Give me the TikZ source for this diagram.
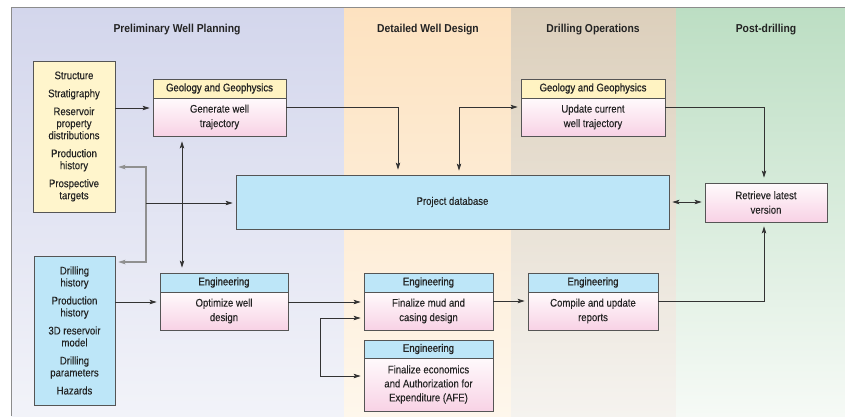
\documentclass[tikz,border=0pt]{standalone}
\usepackage{fontspec}
\setmainfont{Liberation Sans}[FakeStretch=0.87]
\newfontfamily\bodyfont{Liberation Sans}[FakeStretch=0.87, FakeBold=0.15]
\newfontfamily\hdrfont{Liberation Sans}[FakeStretch=0.87, FakeBold=0.8]
\newfontfamily\titlefont{Liberation Sans Bold}[FakeStretch=0.9]
\usetikzlibrary{arrows.meta,calc}

\definecolor{framecol}{HTML}{8C8C8C}
\definecolor{linecol}{HTML}{333333}
\definecolor{branchcol}{HTML}{909090}
\definecolor{boxline}{HTML}{555555}
\definecolor{textcol}{HTML}{232323}
\definecolor{planTop}{HTML}{D3D6EC}
\definecolor{planBot}{HTML}{F2F3F9}
\definecolor{designTop}{HTML}{FDE2C0}
\definecolor{designBot}{HTML}{FEF7EC}
\definecolor{drillTop}{HTML}{DCCFBB}
\definecolor{drillBot}{HTML}{F5F3EF}
\definecolor{postTop}{HTML}{BCDEC3}
\definecolor{postBot}{HTML}{F6FAF6}
\definecolor{ylw}{HTML}{FFF5CC}
\definecolor{hdry}{HTML}{FFF3C2}
\definecolor{lblue}{HTML}{BDE6F8}
\definecolor{pinkTop}{HTML}{FFFAFC}
\definecolor{pinkBot}{HTML}{F8D2E5}

\tikzset{
  coltitle/.style={font=\titlefont\fontsize{11.5}{13}\selectfont, text=textcol},
  box/.style={draw=boxline, line width=0.8pt, inner sep=0pt, align=center,
    text=textcol, font=\bodyfont\fontsize{11}{14.5}\selectfont},
  listbox/.style={box, font=\bodyfont\fontsize{11}{12}\selectfont},
  hdr/.style={box, minimum height=19pt, font=\hdrfont\fontsize{11}{13}\selectfont},
  bodybox/.style={box, top color=pinkTop, bottom color=pinkBot},
  arr/.style={draw=linecol, line width=0.9pt,
    -{Stealth[length=7pt,width=4.5pt,inset=1.5pt]}, shorten >=3pt},
  dblarr/.style={arr, {Stealth[length=7pt,width=4.5pt,inset=1.5pt]}-{Stealth[length=7pt,width=4.5pt,inset=1.5pt]}, shorten <=3pt},
  branch/.style={arr, draw=branchcol, line width=1.2pt}
}

\begin{document}
\begin{tikzpicture}[x=1pt,y=-1pt]
\useasboundingbox (0,0) rectangle (845,416);
\fill[white] (0,0) rectangle (845,416);

% phase columns
\shade[top color=planTop, bottom color=planBot] (11.5,7) rectangle (344,416);
\shade[top color=designTop, bottom color=designBot] (344,7) rectangle (511,416);
\shade[top color=drillTop, bottom color=drillBot] (511,7) rectangle (676,416);
\shade[top color=postTop, bottom color=postBot] (676,7) rectangle (845,416);
\draw[framecol, line width=1pt] (11.5,416) -- (11.5,7) -- (845,7);

% phase titles
\node[coltitle] (t1) at (177,30) {Preliminary Well Planning};
\node[coltitle] (t2) at (428,30) {Detailed Well Design};
\node[coltitle] (t3) at (593,30) {Drilling Operations};
\node[coltitle] (t4) at (766,30) {Post-drilling};

% input lists
\node[listbox, fill=ylw, minimum width=82pt, minimum height=151pt] (yellow) at (74,136.5)
  {Structure\\[6pt]Stratigraphy\\[6pt]Reservoir\\property\\distributions\\[6pt]Production\\history\\[6pt]Prospective\\targets};
\node[listbox, fill=lblue, minimum width=81pt, minimum height=149pt] (blue) at (74.5,330.5)
  {Drilling\\history\\[6pt]Production\\history\\[6pt]3D reservoir\\model\\[6pt]Drilling\\parameters\\[6pt]Hazards};

% geology and geophysics tasks
\node[hdr, fill=hdry, minimum width=133pt] (gg1h) at (219.5,88.5) {Geology and Geophysics};
\node[bodybox, minimum width=133pt, minimum height=38pt] (gg1) at (219.5,117) {Generate well\\trajectory};
\node[hdr, fill=hdry, minimum width=144pt] (gg2h) at (593,88.5) {Geology and Geophysics};
\node[bodybox, minimum width=144pt, minimum height=38pt] (gg2) at (593,117) {Update current\\well trajectory};

% database and archive
\node[box, fill=lblue, minimum width=433pt, minimum height=54pt] (db) at (452.5,202) {Project database};
\node[bodybox, minimum width=122pt, minimum height=39pt] (ret) at (766,202.5) {Retrieve latest\\version};

% engineering tasks
\node[hdr, fill=lblue, minimum width=128pt] (opth) at (224,282.5) {Engineering};
\node[bodybox, minimum width=128pt, minimum height=38pt] (opt) at (224,311) {Optimize well\\design};
\node[hdr, fill=lblue, minimum width=129pt] (mudh) at (428.5,282.5) {Engineering};
\node[bodybox, minimum width=129pt, minimum height=38pt] (mud) at (428.5,311) {Finalize mud and\\casing design};
\node[hdr, fill=lblue, minimum width=129pt, minimum height=18pt] (econh) at (428.5,349) {Engineering};
\node[bodybox, minimum width=129pt, minimum height=53pt, font=\bodyfont\fontsize{11}{14}\selectfont] (econ) at (428.5,384.5)
  {Finalize economics\\and Authorization for\\Expenditure (AFE)};
\node[hdr, fill=lblue, minimum width=130pt] (comph) at (593,282.5) {Engineering};
\node[bodybox, minimum width=130pt, minimum height=38pt] (comp) at (593,311) {Compile and update\\reports};

% junction points
\coordinate (jl) at (146,203);
\coordinate (jr) at (320,347);

% connectors
\draw[arr] (yellow.east |- 0,108) -- (gg1.west |- 0,108);
\draw[arr, shorten >=5pt] (gg1.east |- 0,107) -| (db.north -| 398,0);
\draw[branch] (jl) |- (yellow.east |- 0,167);
\draw[branch] (jl) |- (blue.east |- 0,262);
\draw[arr] (jl) -- (db.west |- jl);
\draw[dblarr, shorten <=5pt, shorten >=5pt] (gg1.south -| 182,0) -- (opth.north -| 182,0);
\draw[arr] (blue.east |- 0,302) -- (opt.west |- 0,302);
\draw[arr] (opt.east |- 0,302) -- (mud.west |- 0,302);
\draw[arr] (jr) |- (mud.west |- 0,318);
\draw[arr] (jr) |- (econ.west |- 0,376);
\draw[arr] (mud.east |- 0,301) -- (comp.west |- 0,301);
\draw[arr, shorten >=4pt] (comp.east |- 0,301) -| (ret.south -| 764,0);
\draw[arr, shorten >=5pt] (gg2.east |- 0,107) -| (ret.north -| 764,0);
\draw[dblarr] (db.east |- 0,202) -- (ret.west |- 0,202);
\draw[dblarr, shorten <=4pt] (db.north -| 459,0) |- (gg2.west |- 0,107);
\end{tikzpicture}
\end{document}
